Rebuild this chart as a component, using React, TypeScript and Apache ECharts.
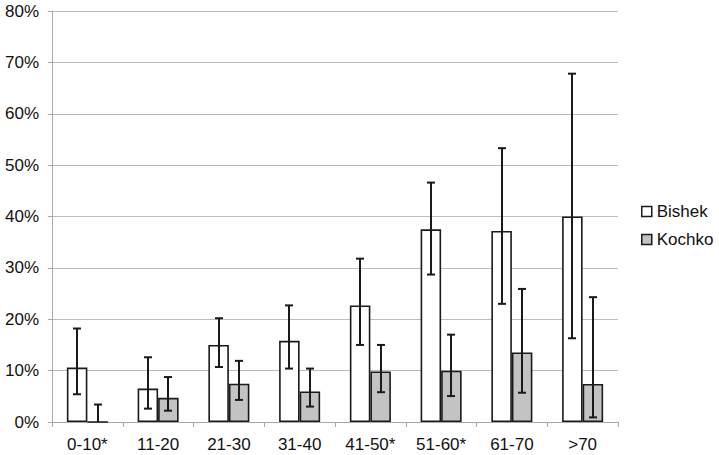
import React, { useEffect, useRef } from "react";
import * as echarts from "echarts";

const categories = ["0-10*", "11-20", "21-30", "31-40", "41-50*", "51-60*", "61-70", ">70"];
const bishek = [10.6, 6.5, 15.0, 15.8, 22.7, 37.5, 37.2, 40.0];
const bishekLow = [5.4, 2.6, 10.7, 10.4, 15.0, 28.7, 23.0, 16.3];
const bishekHigh = [18.2, 12.6, 20.2, 22.7, 31.8, 46.6, 53.3, 67.8];
const kochko = [0, 4.7, 7.45, 5.95, 9.85, 10.0, 13.55, 7.4];
const kochkoLow = [0, 2.2, 4.3, 3.0, 5.8, 5.05, 5.7, 0.9];
const kochkoHigh = [3.4, 8.75, 11.9, 10.4, 15.0, 17.0, 25.9, 24.3];
const yTicks = [0, 10, 20, 30, 40, 50, 60, 70, 80];

const BAR_FRAC = 0.29;
const FONT = "'Liberation Sans', Arial, Helvetica, sans-serif";

function errorSeries(name: string, low: number[], high: number[], sign: number) {
  return {
    type: "custom",
    name: name + " error",
    z: 10,
    silent: true,
    encode: { x: 0, y: [1, 2] },
    data: categories.map((_, i) => [i, low[i], high[i]]),
    renderItem: (params: any, api: any) => {
      const idx = api.value(0);
      const lo = api.value(1);
      const hi = api.value(2);
      const bandW = api.size([1, 0])[0];
      const off = (sign * bandW * BAR_FRAC) / 2;
      const pLo = api.coord([idx, lo]);
      const pHi = api.coord([idx, hi]);
      const x = Math.round(pLo[0] + off);
      const cap = 4;
      const style = { stroke: "#1a1a1a", lineWidth: 2 };
      const children: any[] = [
        { type: "line", shape: { x1: x, y1: pHi[1], x2: x, y2: pLo[1] }, style },
        { type: "line", shape: { x1: x - cap, y1: pHi[1], x2: x + cap, y2: pHi[1] }, style },
      ];
      if (lo > 0) {
        children.push({ type: "line", shape: { x1: x - cap, y1: pLo[1], x2: x + cap, y2: pLo[1] }, style });
      }
      return { type: "group", children };
    },
  };
}

export default function App() {
  const ref = useRef<HTMLDivElement>(null);
  useEffect(() => {
    if (!ref.current) return;
    const chart = echarts.init(ref.current, null, { renderer: "svg" });
    chart.setOption({
      animation: false,
      textStyle: { fontFamily: FONT },
      grid: { left: 52, right: 101, top: 11, bottom: 33, containLabel: false },
      legend: {
        orient: "vertical",
        left: 641,
        top: 203,
        padding: 0,
        itemWidth: 10,
        itemHeight: 10,
        itemGap: 11,
        icon: "rect",
        textStyle: { fontSize: 17, color: "#111", fontFamily: FONT },
        data: [
          { name: "Bishek", itemStyle: { color: "#ffffff", borderColor: "#1a1a1a", borderWidth: 1.5 } },
          { name: "Kochko", itemStyle: { color: "#c3c3c3", borderColor: "#1a1a1a", borderWidth: 1.5 } },
        ],
      },
      xAxis: {
        type: "category",
        data: categories,
        axisLine: { show: true, lineStyle: { color: "#a8a8a8", width: 1 } },
        axisTick: { show: true, length: 5, lineStyle: { color: "#a8a8a8" } },
        axisLabel: { fontSize: 17, color: "#111", margin: 14, fontFamily: FONT },
      },
      yAxis: {
        type: "value",
        min: 0,
        max: 80,
        interval: 10,
        axisLine: { show: true, lineStyle: { color: "#a8a8a8", width: 1 } },
        axisTick: { show: true, length: 4, lineStyle: { color: "#a8a8a8" } },
        axisLabel: {
          fontSize: 17,
          color: "#111",
          margin: 13,
          fontFamily: FONT,
          formatter: (v: number) => (yTicks.includes(v) ? v + "%" : ""),
        },
        splitLine: { show: true, lineStyle: { color: "#bdbdbd", width: 1 } },
      },
      series: [
        {
          type: "bar",
          name: "Bishek",
          data: bishek,
          barWidth: BAR_FRAC * 100 + "%",
          barGap: "0%",
          itemStyle: { color: "#ffffff", borderColor: "#1a1a1a", borderWidth: 1.6 },
        },
        {
          type: "bar",
          name: "Kochko",
          data: kochko,
          barWidth: BAR_FRAC * 100 + "%",
          barGap: "0%",
          itemStyle: { color: "#c3c3c3", borderColor: "#1a1a1a", borderWidth: 1.6 },
        },
        errorSeries("Bishek", bishekLow, bishekHigh, -1),
        errorSeries("Kochko", kochkoLow, kochkoHigh, 1),
      ],
    });
    return () => chart.dispose();
  }, []);
  return <div ref={ref} style={{ width: 719, height: 455, position: "absolute", left: 0, top: 0 }} />;
}
